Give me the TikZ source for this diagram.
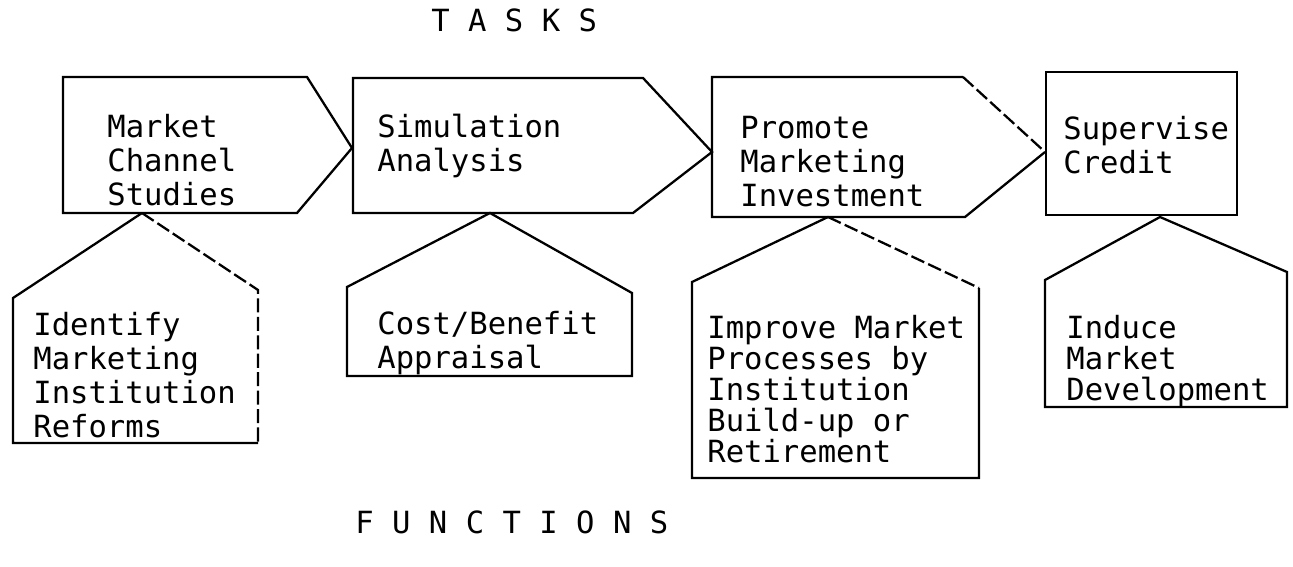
\documentclass[tikz,border=0pt]{standalone}
\usepackage{fontspec}
\newfontfamily\monofam{DejaVu Sans Mono}
\begin{document}
\begin{tikzpicture}[x=0.02cm,y=-0.02cm,
  outline/.style={line width=1.3pt, line join=miter, line cap=butt},
  faint/.style={outline, dash pattern=on 8pt off 2.5pt},
  label/.style={anchor=north west, inner sep=0pt, align=left,
    font=\monofam\fontsize{17.4pt}{19.35pt}\selectfont},
  labeltight/.style={label, font=\monofam\fontsize{17.4pt}{17.6pt}\selectfont},
  heading/.style={anchor=base west, inner sep=0pt,
    font=\monofam\fontsize{17.4pt}{20pt}\selectfont}]
\useasboundingbox (0,0) rectangle (1293,567);

% ---------- headings ----------
\node[heading] (tasks) at (431,32) {T A S K S};
\node[heading] (functions) at (355,533) {F U N C T I O N S};

% ---------- task row: arrow-shaped boxes ----------
\draw[outline] (63,77) -- (307,77) -- (352,148) -- (297,213) -- (63,213) -- cycle;
\draw[outline] (353,78) -- (643,78) -- (712,152) -- (633,213) -- (353,213) -- cycle;
\draw[outline] (963,77) -- (712,77) -- (712,217) -- (965,217) -- (1045,152);
\draw[faint] (963,77) -- (1045,152);
\draw[outline] (1046,72) rectangle (1237,215);

\node[label] (t1) at (107,114) {Market\\Channel\\Studies};
\node[label] (t2) at (377,114) {Simulation\\Analysis};
\node[label] (t3) at (740,116) {Promote\\Marketing\\Investment};
\node[label] (t4) at (1063,116) {Supervise\\Credit};

% ---------- function row: house-shaped boxes ----------
\draw[outline] (258,443) -- (13,443) -- (13,298) -- (142,213);
\draw[faint] (142,213) -- (258,290) -- (258,443);
\draw[outline] (490,213) -- (347,287) -- (347,376) -- (632,376) -- (632,293) -- cycle;
\draw[outline] (979,288) -- (979,478) -- (692,478) -- (692,282) -- (828,217);
\draw[faint] (828,217) -- (979,288);
\draw[outline] (1160,217) -- (1045,280) -- (1045,407) -- (1287,407) -- (1287,272) -- cycle;

\node[label] (f1) at (33,312) {Identify\\Marketing\\Institution\\Reforms};
\node[label] (f2) at (377,311) {Cost/Benefit\\Appraisal};
\node[labeltight] (f3) at (707,315) {Improve Market\\Processes by\\Institution\\Build-up or\\Retirement};
\node[labeltight] (f4) at (1066,315) {Induce\\Market\\Development};
\end{tikzpicture}
\end{document}
